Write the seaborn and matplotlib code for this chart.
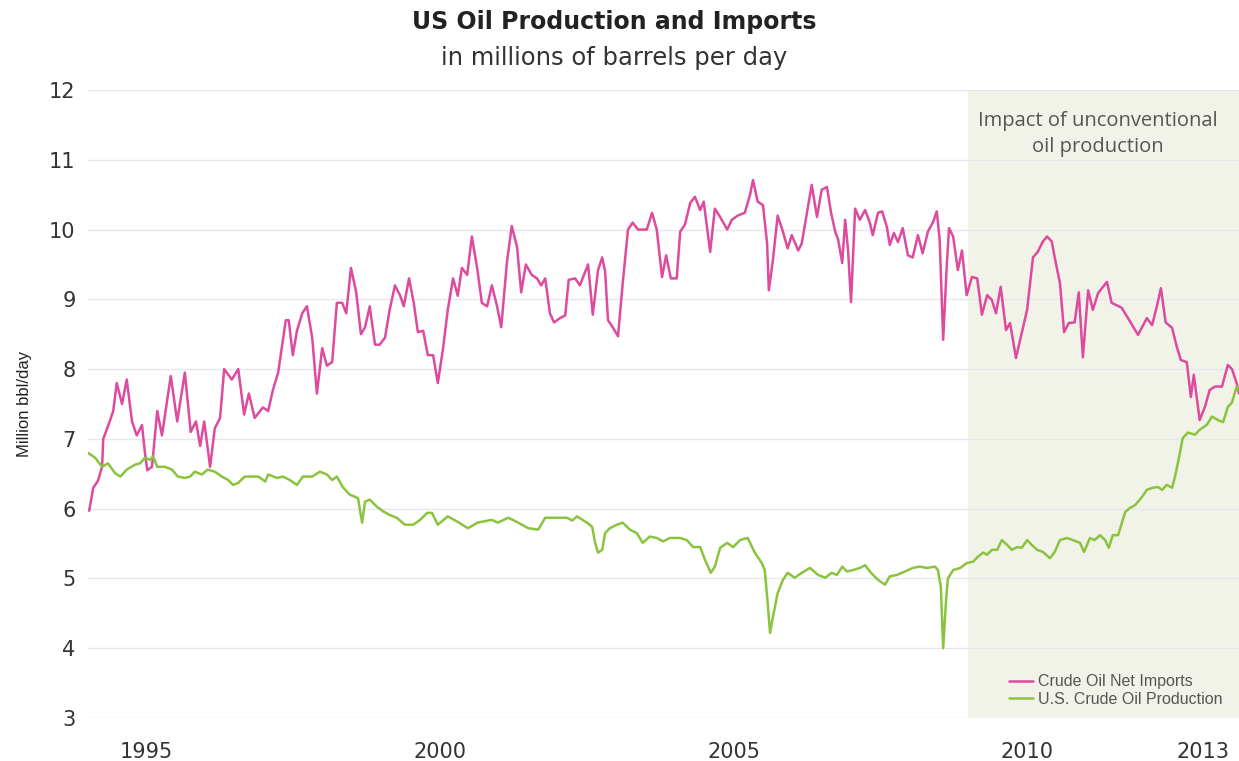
import matplotlib
matplotlib.use("Agg")
import matplotlib.pyplot as plt
import seaborn as sns
import pandas as pd

# ---------------------------------------------------------------- data
imports_years = [
    1994.02, 1994.09, 1994.17, 1994.24, 1994.26, 1994.37, 1994.43, 1994.49, 1994.58, 1994.66,
    1994.75, 1994.83, 1994.92, 1994.97, 1995.01, 1995.09, 1995.18, 1995.26, 1995.41, 1995.52,
    1995.65, 1995.75, 1995.84, 1995.91, 1995.98, 1996.08, 1996.16, 1996.25, 1996.32, 1996.45,
    1996.56, 1996.66, 1996.74, 1996.84, 1996.98, 1997.07, 1997.15, 1997.24, 1997.30, 1997.37,
    1997.42, 1997.49, 1997.56, 1997.65, 1997.73, 1997.82, 1997.90, 1997.99, 1998.07, 1998.16,
    1998.24, 1998.33, 1998.40, 1998.48, 1998.57, 1998.65, 1998.72, 1998.80, 1998.89, 1998.97,
    1999.06, 1999.14, 1999.23, 1999.32, 1999.38, 1999.47, 1999.55, 1999.62, 1999.71, 1999.79,
    1999.88, 1999.96, 2000.05, 2000.13, 2000.22, 2000.30, 2000.37, 2000.46, 2000.54, 2000.63,
    2000.71, 2000.80, 2000.88, 2000.97, 2001.04, 2001.14, 2001.22, 2001.31, 2001.38, 2001.46,
    2001.56, 2001.65, 2001.72, 2001.79, 2001.87, 2001.94, 2002.04, 2002.13, 2002.19, 2002.30,
    2002.38, 2002.52, 2002.60, 2002.69, 2002.76, 2002.81, 2002.86, 2002.94, 2003.03, 2003.11,
    2003.20, 2003.28, 2003.37, 2003.52, 2003.61, 2003.69, 2003.78, 2003.85, 2003.93, 2004.03,
    2004.09, 2004.17, 2004.26, 2004.34, 2004.43, 2004.49, 2004.60, 2004.68, 2004.77, 2004.89,
    2004.97, 2005.07, 2005.19, 2005.28, 2005.33, 2005.41, 2005.50, 2005.57, 2005.60, 2005.67,
    2005.75, 2005.84, 2005.92, 2005.99, 2006.10, 2006.16, 2006.25, 2006.33, 2006.42, 2006.50,
    2006.59, 2006.66, 2006.73, 2006.78, 2006.85, 2006.90, 2006.95, 2007.00, 2007.07, 2007.15,
    2007.24, 2007.32, 2007.37, 2007.46, 2007.53, 2007.61, 2007.66, 2007.73, 2007.80, 2007.88,
    2007.97, 2008.05, 2008.14, 2008.22, 2008.31, 2008.40, 2008.46, 2008.51, 2008.57, 2008.63,
    2008.67, 2008.74, 2008.82, 2008.89, 2008.97, 2009.06, 2009.15, 2009.23, 2009.32, 2009.40,
    2009.47, 2009.55, 2009.64, 2009.71, 2009.81, 2009.91, 2010.00, 2010.10, 2010.18, 2010.27,
    2010.34, 2010.42, 2010.47, 2010.56, 2010.63, 2010.71, 2010.81, 2010.88, 2010.95, 2011.04,
    2011.12, 2011.21, 2011.36, 2011.44, 2011.61, 2011.72, 2011.89, 2012.04, 2012.13, 2012.21,
    2012.28, 2012.36, 2012.47, 2012.55, 2012.62, 2012.72, 2012.79, 2012.84, 2012.94, 2013.03,
    2013.11, 2013.20, 2013.32, 2013.42, 2013.49, 2013.57, 2013.61,
]
imports_values = [
    5.97, 6.30, 6.40, 6.60, 7.00, 7.25, 7.40, 7.80, 7.50, 7.85,
    7.25, 7.05, 7.20, 6.80, 6.55, 6.60, 7.40, 7.05, 7.90, 7.25,
    7.95, 7.10, 7.25, 6.90, 7.25, 6.60, 7.15, 7.30, 8.00, 7.85,
    8.00, 7.35, 7.65, 7.30, 7.45, 7.40, 7.70, 7.95, 8.30, 8.70,
    8.70, 8.20, 8.55, 8.80, 8.90, 8.45, 7.65, 8.30, 8.05, 8.10,
    8.95, 8.95, 8.80, 9.45, 9.10, 8.50, 8.60, 8.90, 8.35, 8.35,
    8.45, 8.85, 9.20, 9.05, 8.90, 9.30, 8.95, 8.53, 8.55, 8.20,
    8.20, 7.80, 8.30, 8.85, 9.30, 9.05, 9.45, 9.35, 9.90, 9.45,
    8.95, 8.90, 9.20, 8.90, 8.60, 9.55, 10.05, 9.75, 9.10, 9.50,
    9.35, 9.30, 9.20, 9.30, 8.80, 8.67, 8.73, 8.77, 9.28, 9.30,
    9.20, 9.50, 8.78, 9.42, 9.60, 9.40, 8.70, 8.60, 8.47, 9.23,
    10.00, 10.10, 10.00, 10.00, 10.24, 10.00, 9.32, 9.63, 9.30, 9.30,
    9.97, 10.07, 10.38, 10.47, 10.28, 10.40, 9.68, 10.30, 10.18, 10.00,
    10.14, 10.20, 10.24, 10.50, 10.71, 10.40, 10.35, 9.80, 9.13, 9.57,
    10.20, 9.97, 9.73, 9.92, 9.70, 9.80, 10.24, 10.64, 10.18, 10.57,
    10.61, 10.24, 9.97, 9.86, 9.52, 10.14, 9.70, 8.96, 10.30, 10.14,
    10.28, 10.10, 9.92, 10.24, 10.26, 10.04, 9.78, 9.95, 9.82, 10.02,
    9.63, 9.60, 9.92, 9.66, 9.97, 10.11, 10.26, 9.86, 8.42, 9.47,
    10.02, 9.90, 9.42, 9.70, 9.06, 9.32, 9.30, 8.78, 9.06, 8.99,
    8.80, 9.18, 8.56, 8.66, 8.16, 8.52, 8.85, 9.60, 9.68, 9.83,
    9.90, 9.83, 9.60, 9.23, 8.53, 8.66, 8.67, 9.10, 8.17, 9.13,
    8.85, 9.09, 9.25, 8.95, 8.88, 8.73, 8.49, 8.73, 8.63, 8.90,
    9.16, 8.67, 8.59, 8.32, 8.13, 8.10, 7.60, 7.92, 7.27, 7.46,
    7.70, 7.75, 7.75, 8.06, 8.00, 7.80, 7.65,
]

production_years = [
    1994.00, 1994.12, 1994.24, 1994.34, 1994.46, 1994.55, 1994.66, 1994.80, 1994.89, 1994.97,
    1995.06, 1995.11, 1995.18, 1995.31, 1995.43, 1995.53, 1995.65, 1995.74, 1995.82, 1995.94,
    1996.04, 1996.16, 1996.28, 1996.39, 1996.47, 1996.56, 1996.67, 1996.79, 1996.90, 1997.02,
    1997.07, 1997.22, 1997.32, 1997.44, 1997.56, 1997.66, 1997.82, 1997.95, 1998.07, 1998.16,
    1998.24, 1998.34, 1998.46, 1998.55, 1998.60, 1998.67, 1998.72, 1998.80, 1998.92, 1999.03,
    1999.14, 1999.26, 1999.40, 1999.54, 1999.66, 1999.78, 1999.86, 1999.96, 2000.13, 2000.30,
    2000.47, 2000.64, 2000.88, 2000.98, 2001.16, 2001.33, 2001.50, 2001.67, 2001.79, 2001.96,
    2002.16, 2002.25, 2002.33, 2002.50, 2002.59, 2002.64, 2002.69, 2002.76, 2002.81, 2002.89,
    2003.01, 2003.11, 2003.23, 2003.35, 2003.45, 2003.57, 2003.69, 2003.80, 2003.91, 2004.09,
    2004.20, 2004.31, 2004.43, 2004.51, 2004.61, 2004.68, 2004.77, 2004.89, 2004.99, 2005.11,
    2005.24, 2005.36, 2005.48, 2005.53, 2005.58, 2005.62, 2005.67, 2005.75, 2005.84, 2005.92,
    2006.04, 2006.16, 2006.30, 2006.44, 2006.56, 2006.67, 2006.76, 2006.85, 2006.93, 2007.03,
    2007.15, 2007.24, 2007.34, 2007.46, 2007.58, 2007.66, 2007.78, 2007.92, 2008.05, 2008.17,
    2008.29, 2008.43, 2008.48, 2008.53, 2008.57, 2008.62, 2008.65, 2008.74, 2008.86, 2008.97,
    2009.08, 2009.16, 2009.25, 2009.32, 2009.40, 2009.49, 2009.57, 2009.66, 2009.74, 2009.83,
    2009.91, 2010.00, 2010.08, 2010.17, 2010.27, 2010.39, 2010.47, 2010.56, 2010.68, 2010.78,
    2010.90, 2010.97, 2011.07, 2011.15, 2011.24, 2011.33, 2011.39, 2011.46, 2011.55, 2011.67,
    2011.75, 2011.84, 2011.96, 2012.04, 2012.14, 2012.23, 2012.30, 2012.38, 2012.47, 2012.52,
    2012.59, 2012.65, 2012.74, 2012.86, 2012.94, 2013.06, 2013.15, 2013.25, 2013.34, 2013.42,
    2013.49, 2013.57, 2013.61,
]
production_values = [
    6.80, 6.73, 6.60, 6.65, 6.51, 6.46, 6.56, 6.63, 6.65, 6.73,
    6.70, 6.75, 6.60, 6.60, 6.56, 6.46, 6.44, 6.46, 6.53, 6.49,
    6.56, 6.53, 6.46, 6.41, 6.34, 6.37, 6.46, 6.46, 6.46, 6.39,
    6.49, 6.44, 6.46, 6.41, 6.34, 6.46, 6.46, 6.53, 6.49, 6.41,
    6.46, 6.31, 6.20, 6.17, 6.15, 5.80, 6.10, 6.13, 6.03, 5.96,
    5.91, 5.87, 5.77, 5.77, 5.84, 5.94, 5.94, 5.77, 5.89, 5.81,
    5.72, 5.80, 5.84, 5.80, 5.87, 5.80, 5.72, 5.70, 5.87, 5.87,
    5.87, 5.83, 5.89, 5.80, 5.74, 5.51, 5.37, 5.41, 5.65, 5.72,
    5.77, 5.80, 5.70, 5.65, 5.51, 5.60, 5.58, 5.53, 5.58, 5.58,
    5.55, 5.45, 5.45, 5.27, 5.08, 5.17, 5.44, 5.51, 5.45, 5.55,
    5.58, 5.37, 5.22, 5.12, 4.65, 4.22, 4.45, 4.79, 4.98, 5.08,
    5.01, 5.08, 5.15, 5.05, 5.01, 5.08, 5.05, 5.17, 5.10, 5.12,
    5.15, 5.19, 5.08, 4.98, 4.91, 5.03, 5.05, 5.10, 5.15, 5.17,
    5.15, 5.17, 5.12, 4.88, 4.00, 4.70, 5.00, 5.12, 5.15, 5.22,
    5.24, 5.31, 5.37, 5.34, 5.41, 5.41, 5.55, 5.48, 5.41, 5.45,
    5.44, 5.55, 5.48, 5.41, 5.38, 5.29, 5.38, 5.55, 5.58, 5.55,
    5.51, 5.38, 5.58, 5.55, 5.62, 5.55, 5.44, 5.62, 5.62, 5.95,
    6.01, 6.05, 6.17, 6.27, 6.30, 6.31, 6.27, 6.34, 6.30, 6.46,
    6.74, 7.01, 7.09, 7.06, 7.13, 7.20, 7.32, 7.27, 7.24, 7.46,
    7.52, 7.75, 7.70,
]

x_ticks = [1995, 2000, 2005, 2010, 2013]
y_ticks = [3, 4, 5, 6, 7, 8, 9, 10, 11, 12]
shade_start = 2009.0

imports_label = "Crude Oil Net Imports"
production_label = "U.S. Crude Oil Production"

PINK = "#DE4A9E"
GREEN = "#8AC43F"

# ---------------------------------------------------------------- plot
sns.set_theme(style="whitegrid")
plt.rcParams["font.family"] = ["DejaVu Sans"]

df_imp = pd.DataFrame({"year": imports_years, "value": imports_values})
df_prod = pd.DataFrame({"year": production_years, "value": production_values})

fig = plt.figure(figsize=(12.39, 7.61), dpi=100)
ax = fig.add_axes([88 / 1239, 43 / 761, 1 - 88 / 1239, 628 / 761])

x_max = max(imports_years[-1], production_years[-1])
ax.axvspan(shade_start, x_max, color="#F1F3E8", zorder=0, lw=0)

sns.lineplot(data=df_imp, x="year", y="value", ax=ax, color=PINK, lw=1.8, label=imports_label)
sns.lineplot(data=df_prod, x="year", y="value", ax=ax, color=GREEN, lw=1.8, label=production_label)

ax.set_xlim(1994.0, x_max)
ax.set_ylim(3, 12)
ax.set_xticks(x_ticks)
ax.set_yticks(y_ticks)
ax.grid(axis="x", visible=False)
ax.grid(axis="y", color="#E6E6EE", lw=1.0)
for s in ax.spines.values():
    s.set_visible(False)
ax.tick_params(axis="y", length=0, pad=9, labelsize=15, labelcolor="#333333")
ax.tick_params(axis="x", length=0, pad=17, labelsize=15, labelcolor="#333333")
ax.set_xlabel("")
ax.set_ylabel("Million bbl/day", fontsize=12, color="#222222", labelpad=12,
              family=["Liberation Sans Narrow", "Liberation Sans", "DejaVu Sans"])
ax.set_facecolor("white")

ax.text(2011.2, 11.37, "Impact of unconventional\noil production", ha="center", va="center",
        fontsize=14.5, color="#555555", linespacing=1.35,
        family=["Open Sans", "DejaVu Sans"])

leg = ax.legend(loc="lower right", bbox_to_anchor=(0.995, 0.0), frameon=False,
                handlelength=1.5, handletextpad=0.3, labelspacing=0.15, borderaxespad=0.3,
                prop={"size": 11.5, "family": ["Liberation Sans Narrow", "Liberation Sans", "DejaVu Sans"]})
for t in leg.get_texts():
    t.set_color("#555555")

fig.text(0.496, 0.971, "US Oil Production and Imports", ha="center", va="center",
         fontsize=17, fontweight="bold", color="#222222")
fig.text(0.496, 0.924, "in millions of barrels per day", ha="center", va="center",
         fontsize=17.5, color="#333333")

fig.savefig("out.png", dpi=100)
